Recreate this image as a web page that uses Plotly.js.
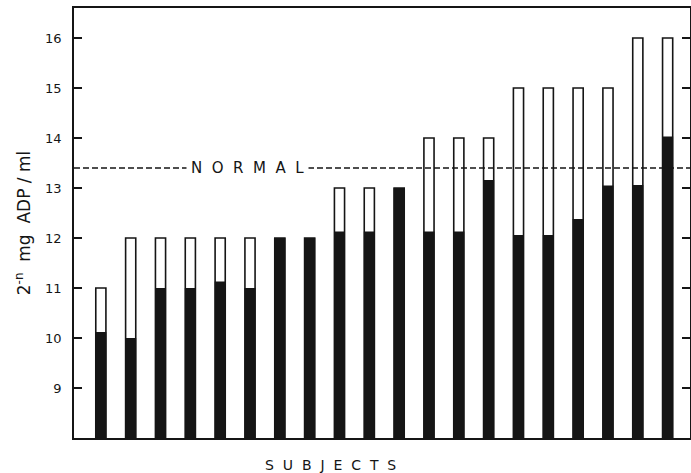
<!DOCTYPE html>
<html>
<head>
<meta charset="utf-8">
<script src="https://cdn.plot.ly/plotly-3.0.1.min.js"></script>
<style>html,body{margin:0;padding:0;background:#fff;}#chart{width:691px;height:473px;}</style>
</head>
<body>
<div id="chart"></div>
<script>
const subjects = [1,2,3,4,5,6,7,8,9,10,11,12,13,14,15,16,17,18,19,20];
const upperValues = [11,12,12,12,12,12,12,12,13,13,13,14,14,14,15,15,15,15,16,16];
const solidValues = [10.12,10.0,11.0,11.0,11.13,11.0,12,12,12.13,12.13,13,12.13,12.13,13.16,12.06,12.06,12.38,13.05,13.06,14.03];
const yTicks = [9,10,11,12,13,14,15,16];
const normalLevel = 13.4;

const font = "DejaVu Sans, Liberation Sans, sans-serif";

const traces = [
  {type:'bar', x:subjects, y:upperValues, width:0.34,
   marker:{color:'#ffffff', line:{color:'#151515', width:1.6}}, hoverinfo:'skip'},
  {type:'bar', x:subjects, y:solidValues, width:0.37,
   marker:{color:'#151515', line:{color:'#151515', width:0}}, hoverinfo:'skip'}
];

const layout = {
  width:691, height:473,
  margin:{l:74, r:1, t:8, b:35},
  paper_bgcolor:'#fff', plot_bgcolor:'#fff',
  barmode:'overlay',
  showlegend:false,
  font:{family:font, color:'#151515'},
  xaxis:{range:[0.1,20.75], showticklabels:false, ticks:'', showgrid:false, zeroline:false,
         showline:true, linecolor:'#151515', linewidth:1.8, mirror:true},
  yaxis:{range:[8,16.6], tickvals:yTicks, ticktext:yTicks.map(String), ticks:'inside', ticklen:8,
         tickwidth:1.6, tickcolor:'#151515', showgrid:false, zeroline:false,
         showline:true, linecolor:'#151515', linewidth:1.8, mirror:'ticks',
         ticklabelstandoff:8,
         tickfont:{family:font, size:13, color:'#151515'},
         title:{text:'2<sup>-n</sup>  mg  ADP / ml', font:{family:font, size:17, color:'#151515'}, standoff:10}},
  shapes:[{type:'line', xref:'paper', x0:0, x1:1, yref:'y', y0:normalLevel, y1:normalLevel,
           line:{color:'#151515', width:1.4, dash:'6px,3px'}}],
  annotations:[
    {text:'N  O  R  M  A  L', xref:'x', x:5.93, yref:'y', y:normalLevel, showarrow:false,
     bgcolor:'#ffffff', font:{family:font, size:15, color:'#151515'}, borderpad:4},
    {text:'S  U  B  J  E  C  T  S', xref:'paper', x:(330-74)/616, yref:'paper', y:0, yshift:-27, yanchor:'middle',
     showarrow:false, font:{family:font, size:14, color:'#151515'}}
  ]
};

Plotly.newPlot('chart', traces, layout, {displayModeBar:false, staticPlot:true});
</script>
</body>
</html>
